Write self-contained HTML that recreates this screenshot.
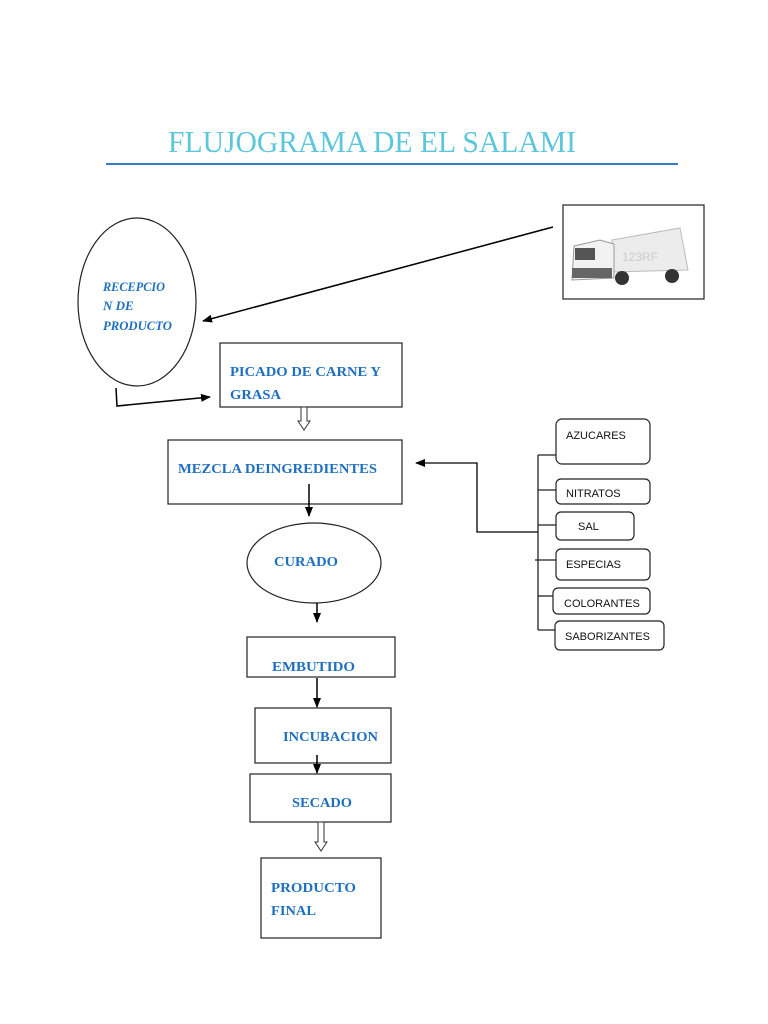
<!DOCTYPE html>
<html><head><meta charset="utf-8"><style>
html,body{margin:0;padding:0;background:#fff;}
svg{display:block;}
.t{font-family:"Liberation Serif",serif;font-weight:bold;font-size:14px;fill:#1f6fc0;}
.i{font-family:"Liberation Serif",serif;font-weight:bold;font-style:italic;font-size:13px;fill:#1f6fc0;}
.s{font-family:"Liberation Sans",sans-serif;font-size:11px;fill:#111;}
</style></head><body>
<svg width="768" height="1024" viewBox="0 0 768 1024">
<defs>
<marker id="a" markerWidth="10" markerHeight="8" refX="9" refY="4" orient="auto" markerUnits="userSpaceOnUse"><path d="M0,0 L10,4 L0,8 z" fill="#000"/></marker>
</defs>
<text x="168" y="152" font-family="Liberation Serif,serif" font-size="31" fill="#5cc6dc" textLength="408" lengthAdjust="spacingAndGlyphs">FLUJOGRAMA DE EL SALAMI</text>
<line x1="106" y1="164" x2="678" y2="164" stroke="#3a7cc4" stroke-width="2"/>

<ellipse cx="137" cy="302" rx="59" ry="84" fill="none" stroke="#222" stroke-width="1.2"/>
<text class="i" x="103" y="291" textLength="62" lengthAdjust="spacingAndGlyphs">RECEPCIO</text>
<text class="i" x="103" y="310">N DE</text>
<text class="i" x="103" y="330" textLength="69" lengthAdjust="spacingAndGlyphs">PRODUCTO</text>
<line x1="553" y1="227" x2="203" y2="321" stroke="#000" stroke-width="1.5" marker-end="url(#a)"/>

<rect x="563" y="205" width="141" height="94" fill="#fff" stroke="#222" stroke-width="1.2"/>
<g>
<path d="M612,240 L680,228 L688,270 L612,272 z" fill="#ececec" stroke="#bbb"/>
<path d="M574,246 L600,240 L614,244 L614,278 L572,280 z" fill="#f2f2f2" stroke="#999"/>
<rect x="575" y="248" width="20" height="12" fill="#555"/>
<rect x="572" y="268" width="40" height="10" fill="#666"/>
<circle cx="622" cy="278" r="7" fill="#333"/><circle cx="672" cy="276" r="7" fill="#333"/>
<text x="622" y="261" font-family="Liberation Sans,sans-serif" font-size="12" fill="#ccc">123RF</text>
</g>

<rect x="220" y="343" width="182" height="64" fill="none" stroke="#222" stroke-width="1.2"/>
<text class="t" x="230" y="376" textLength="151" lengthAdjust="spacingAndGlyphs">PICADO DE CARNE Y</text>
<text class="t" x="230" y="399" textLength="51" lengthAdjust="spacingAndGlyphs">GRASA</text>
<polyline points="116,388 117,406 210,397" fill="none" stroke="#000" stroke-width="1.5" marker-end="url(#a)"/>
<path d="M301,407 L307,407 L307,421 L310,421 L304,430 L298,421 L301,421 z" fill="#fff" stroke="#333"/>

<rect x="168" y="440" width="234" height="64" fill="none" stroke="#222" stroke-width="1.2"/>
<text class="t" x="178" y="473" textLength="199" lengthAdjust="spacingAndGlyphs">MEZCLA DEINGREDIENTES</text>
<line x1="309" y1="484" x2="309" y2="516" stroke="#000" stroke-width="1.5" marker-end="url(#a)"/>

<ellipse cx="314" cy="563" rx="67" ry="40" fill="none" stroke="#222" stroke-width="1.2"/>
<text class="t" x="274" y="566" textLength="64" lengthAdjust="spacingAndGlyphs">CURADO</text>
<line x1="317" y1="603" x2="317" y2="622" stroke="#000" stroke-width="1.5" marker-end="url(#a)"/>

<rect x="247" y="637" width="148" height="40" fill="none" stroke="#222" stroke-width="1.2"/>
<text class="t" x="272" y="671" textLength="83" lengthAdjust="spacingAndGlyphs">EMBUTIDO</text>
<line x1="317" y1="678" x2="317" y2="707" stroke="#000" stroke-width="1.5" marker-end="url(#a)"/>

<rect x="255" y="708" width="136" height="55" fill="none" stroke="#222" stroke-width="1.2"/>
<text class="t" x="283" y="741" textLength="95" lengthAdjust="spacingAndGlyphs">INCUBACION</text>
<line x1="317" y1="755" x2="317" y2="773" stroke="#000" stroke-width="1.5" marker-end="url(#a)"/>

<rect x="250" y="774" width="141" height="48" fill="none" stroke="#222" stroke-width="1.2"/>
<text class="t" x="292" y="807" textLength="60" lengthAdjust="spacingAndGlyphs">SECADO</text>
<path d="M318,822 L324,822 L324,842 L327,842 L321,851 L315,842 L318,842 z" fill="#fff" stroke="#333"/>

<rect x="261" y="858" width="120" height="80" fill="none" stroke="#222" stroke-width="1.2"/>
<text class="t" x="271" y="892" textLength="85" lengthAdjust="spacingAndGlyphs">PRODUCTO</text>
<text class="t" x="271" y="915" textLength="45" lengthAdjust="spacingAndGlyphs">FINAL</text>

<polyline points="538,532 477,532 477,463 416,463" fill="none" stroke="#000" stroke-width="1.3" marker-end="url(#a)"/>
<line x1="538" y1="455" x2="538" y2="630" stroke="#222" stroke-width="1.3"/>
<g stroke="#222" stroke-width="1.3">
<line x1="538" y1="455" x2="556" y2="455"/>
<line x1="538" y1="490" x2="556" y2="490"/>
<line x1="538" y1="525" x2="556" y2="525"/>
<line x1="535" y1="560" x2="556" y2="560"/>
<line x1="538" y1="596" x2="553" y2="596"/>
<line x1="538" y1="630" x2="555" y2="630"/>
</g>
<g fill="#fff" stroke="#222" stroke-width="1.2">
<rect x="556" y="419" width="94" height="45" rx="6"/>
<rect x="556" y="479" width="94" height="25" rx="5"/>
<rect x="556" y="512" width="78" height="28" rx="5"/>
<rect x="556" y="549" width="94" height="31" rx="5"/>
<rect x="553" y="588" width="97" height="26" rx="5"/>
<rect x="555" y="621" width="109" height="29" rx="5"/>
</g>
<text class="s" x="566" y="439">AZUCARES</text>
<text class="s" x="566" y="497">NITRATOS</text>
<text class="s" x="578" y="530">SAL</text>
<text class="s" x="566" y="568">ESPECIAS</text>
<text class="s" x="564" y="607">COLORANTES</text>
<text class="s" x="565" y="640">SABORIZANTES</text>
</svg>
</body></html>
